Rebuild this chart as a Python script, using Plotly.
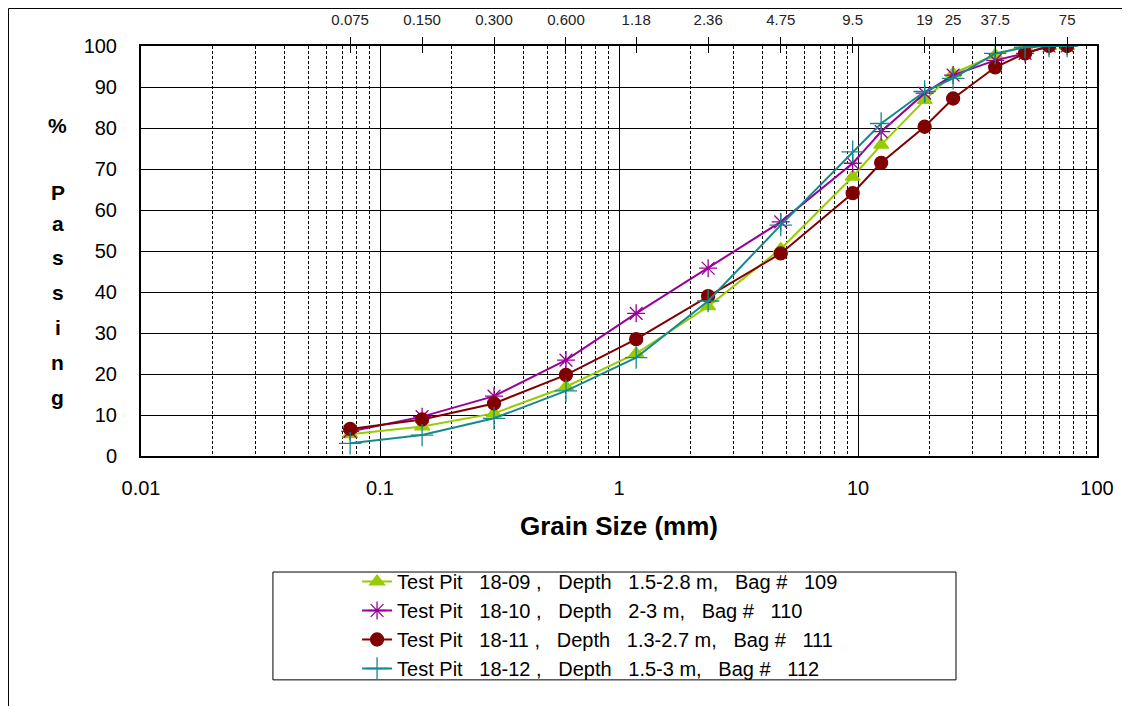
import plotly.graph_objects as go

# ---- data ----
sieve_mm = [0.075, 0.15, 0.3, 0.6, 1.18, 2.36, 4.75, 9.5, 12.5, 19, 25, 37.5, 50, 63, 75]
pit_18_09 = [5.3, 7.2, 10.4, 16.9, 25.0, 36.5, 50.5, 68.1, 75.9, 86.8, 93.3, 97.8, 100, 100, 100]
pit_18_10 = [6.0, 9.6, 14.6, 23.4, 34.8, 45.8, 57.1, 71.4, 79.1, 88.5, 92.9, 96.5, 98.2, 100, 100]
pit_18_11 = [6.6, 8.9, 12.8, 19.8, 28.5, 39.0, 49.4, 64.1, 71.5, 80.3, 87.2, 94.8, 98.2, 100, 100]
pit_18_12 = [3.1, 5.1, 9.2, 15.9, 24.0, 37.8, 56.3, 74.2, 81.1, 88.9, 92.1, 98.2, 99.7, 100, 100]

series_names = [
    "Test Pit   18-09 ,   Depth   1.5-2.8 m,   Bag #   109",
    "Test Pit   18-10 ,   Depth   2-3 m,   Bag #   110",
    "Test Pit   18-11 ,   Depth   1.3-2.7 m,   Bag #   111",
    "Test Pit   18-12 ,   Depth   1.5-3 m,   Bag #   112",
]
series_values = [pit_18_09, pit_18_10, pit_18_11, pit_18_12]
series_colors = ["#99CC00", "#990099", "#800000", "#138A8E"]
series_symbols = ["triangle-up", "asterisk-open", "circle", "cross-thin-open"]
series_sizes = [13, 15, 13, 16]

top_tick_vals = [0.075, 0.15, 0.3, 0.6, 1.18, 2.36, 4.75, 9.5, 19, 25, 37.5, 75]
top_tick_text = ["0.075", "0.150", "0.300", "0.600", "1.18", "2.36", "4.75", "9.5", "19", "25", "37.5", "75"]
bottom_tick_vals = [0.01, 0.1, 1, 10, 100]
bottom_tick_text = ["0.01", "0.1", "1", "10", "100"]
y_letters = ["%", "P", "a", "s", "s", "i", "n", "g"]
y_letter_pos = [80.5, 64.2, 56.6, 48.4, 39.8, 31.4, 22.7, 14.2]

FONT = "Liberation Sans, Arial, sans-serif"

minor_vals = [m * 10 ** e for e in range(-2, 2) for m in range(2, 10)]

fig = go.Figure()
for name, vals, col, sym, sz in zip(series_names, series_values, series_colors, series_symbols, series_sizes):
    fig.add_trace(go.Scatter(
        x=sieve_mm, y=vals, name=name.replace(" ", "\u00a0"), mode="lines+markers",
        line=dict(color=col, width=2),
        marker=dict(symbol=sym, size=sz, color=col, line=dict(color=col, width=1.3)),
    ))

# invisible traces to anchor the top axes
for ax in ["x2", "x3"]:
    fig.add_trace(go.Scatter(x=sieve_mm, y=pit_18_09, xaxis=ax, mode="markers",
                             marker=dict(opacity=0), showlegend=False, hoverinfo="skip"))

fig.update_layout(
    width=1130, height=706,
    margin=dict(l=133, r=41, t=38, b=258, autoexpand=False),
    paper_bgcolor="white", plot_bgcolor="white",
    font=dict(family=FONT, color="black"),
    showlegend=True,
    legend=dict(x=0.226, xanchor="left", y=-0.2585, yanchor="top",
                font=dict(size=20, family=FONT), bgcolor="rgba(0,0,0,0)",
                tracegroupgap=0, itemwidth=30),
    xaxis=dict(type="log", range=[-2, 2], tickmode="array", tickvals=bottom_tick_vals,
               ticktext=bottom_tick_text, tickfont=dict(size=20), ticks="",
               ticklabelstandoff=13, automargin=False,
               showgrid=True, gridcolor="black", gridwidth=1.3,
               minor=dict(tickvals=minor_vals, showgrid=True, gridcolor="black",
                          griddash="3px,2px", gridwidth=1, ticks=""),
               showline=True, linecolor="black", linewidth=2, mirror=True, zeroline=False),
    xaxis2=dict(type="log", range=[-2, 2], overlaying="x", side="top", anchor="y",
                tickmode="array", tickvals=top_tick_vals, ticktext=top_tick_text,
                tickfont=dict(size=15, color="#222"), ticks="outside", ticklen=8, tickwidth=1.3,
                ticklabelstandoff=6, automargin=False,
                tickcolor="black", showgrid=False, showline=False, zeroline=False),
    xaxis3=dict(type="log", range=[-2, 2], overlaying="x", side="top", anchor="y",
                tickmode="array", tickvals=top_tick_vals, showticklabels=False,
                ticks="inside", ticklen=7, tickwidth=1.3, tickcolor="black", automargin=False,
                showgrid=False, showline=False, zeroline=False),
    yaxis=dict(range=[0, 100], dtick=10, tick0=0, tickfont=dict(size=20), ticks="",
               ticklabelstandoff=18, automargin=False,
               showgrid=True, gridcolor="black", gridwidth=1.3,
               showline=True, linecolor="black", linewidth=2, mirror=True, zeroline=False),
)

# y axis title as stacked letters
for ch, yv in zip(y_letters, y_letter_pos):
    fig.add_annotation(text="<b>%s</b>" % ch, x=-0.087, xref="paper", y=yv, yref="y",
                       showarrow=False, font=dict(size=21, family=FONT),
                       xanchor="center", yanchor="middle")

# x axis title
fig.add_annotation(text="<b>Grain\u00a0Size\u00a0(mm)</b>", x=0.5, xref="paper", y=-0.171, yref="paper",
                   showarrow=False, font=dict(size=26, family=FONT),
                   xanchor="center", yanchor="middle")

# legend box
fig.add_shape(type="rect", xref="paper", yref="paper", x0=0.138, x1=0.8525, y0=-0.546, y1=-0.283,
              line=dict(color="black", width=1), fillcolor="rgba(0,0,0,0)")
# outer frame (left and top)
fig.add_shape(type="line", xref="paper", yref="paper", x0=-0.1386, x1=-0.1386, y0=-0.65, y1=1.0915,
              line=dict(color="black", width=1))
fig.add_shape(type="line", xref="paper", yref="paper", x0=-0.1386, x1=1.05, y0=1.0915, y1=1.0915,
              line=dict(color="black", width=1))

fig.write_html("out.html")
